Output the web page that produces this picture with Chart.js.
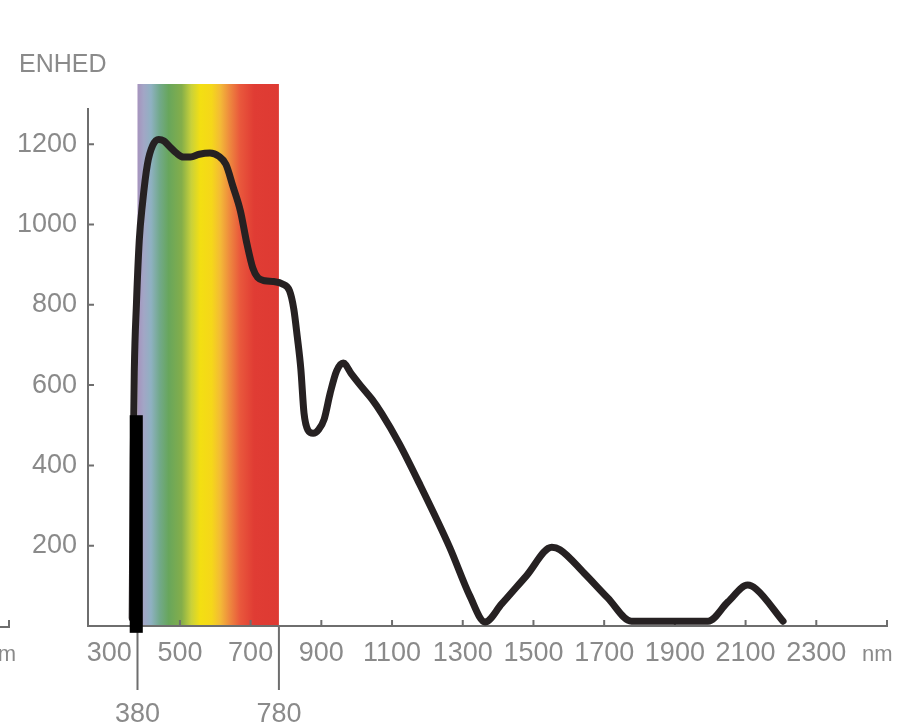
<!DOCTYPE html>
<html>
<head>
<meta charset="utf-8">
<script src="https://cdn.jsdelivr.net/npm/chart.js@4.4.1/dist/chart.umd.min.js"></script>
<style>
  html, body { margin: 0; padding: 0; background: #fff; }
  canvas { display: block; }
</style>
</head>
<body>
<canvas id="spectrumChart" width="910" height="726"></canvas>
<script>
// 태양 복사 스펙트럼 차트 (ENHED / nm)

// ==============================
//  데이터
// ==============================
const wavelengths = [365, 368, 371, 377, 385, 394, 408, 423, 440, 455, 470, 490, 510, 530, 555, 585, 610, 630, 650,
  671, 690, 706, 720, 740, 765, 790, 810, 822, 832, 842, 851, 862, 877, 893, 908, 925, 943, 962, 985,
  1010, 1043, 1071, 1120, 1180, 1263, 1320, 1363, 1410, 1480, 1552, 1575, 1643, 1710, 1777, 1850, 1920, 1994, 2050, 2106,
  2130, 2206];
const energy = [20, 420, 636, 802, 960, 1051, 1150, 1197, 1212, 1208, 1195, 1178, 1168, 1168, 1175, 1178, 1170, 1150, 1095,
  1034, 950, 892, 868, 860, 858, 852, 835, 790, 720, 640, 530, 488, 480, 490, 515, 580, 635, 655, 628,
  600, 565, 529, 455, 350, 196, 75, 10, 55, 125, 196, 190, 132, 70, 12, 12, 12, 12, 60, 102,
  92, 12];

const xTickValues = [300, 500, 700, 900, 1100, 1300, 1500, 1700, 1900, 2100, 2300];
const yTickValues = [200, 400, 600, 800, 1000, 1200];
const visibleRange = [380, 780];

// 가시광선 띠 색상 (nm, color)
const spectrumStops = [
  [380, "#a693bd"], [398, "#a2a6c6"], [418, "#8fb1c2"], [442, "#72a98c"], [468, "#68a65c"],
  [505, "#84ae4a"], [532, "#c9d13a"], [558, "#f3df12"], [590, "#f5d71a"], [615, "#f3b937"],
  [640, "#ee8a3e"], [670, "#e9583c"], [710, "#e03c34"], [780, "#de3a33"]
];

// 검은 가림 막대 (nm 시작, nm 끝, 위 값, 아래 값)
const maskBar = [358, 395, 525, -17];

const FONT = "'Liberation Sans', Arial, sans-serif";
const TEXT = "#8a8a8a";
const AXIS = "#6e6e6e";
const Y_AXIS_TOP = 1290;


// ==============================
//  축 / 배경 그리기 플러그인
// ==============================
const decorPlugin = {
  id: "decor",
  beforeDatasetsDraw(chart) {
    const { ctx, chartArea, scales: { x, y } } = chart;
    const x0 = x.getPixelForValue(visibleRange[0]);
    const x1 = x.getPixelForValue(visibleRange[1]);
    const yZero = y.getPixelForValue(0);
    const span = visibleRange[1] - visibleRange[0];

    // --- 스펙트럼 띠 ---
    const g = ctx.createLinearGradient(x0, 0, x1, 0);
    spectrumStops.forEach(([nm, c]) => g.addColorStop((nm - visibleRange[0]) / span, c));
    ctx.save();
    ctx.fillStyle = g;
    ctx.fillRect(x0, chartArea.top, x1 - x0, yZero - chartArea.top);

    // --- 축 ---
    ctx.strokeStyle = AXIS;
    ctx.lineWidth = 2;
    ctx.beginPath();
    ctx.moveTo(chartArea.left, y.getPixelForValue(Y_AXIS_TOP));
    ctx.lineTo(chartArea.left, yZero);
    ctx.lineTo(chartArea.right, yZero);
    ctx.lineTo(chartArea.right, yZero - 6);
    yTickValues.forEach(v => {
      const py = y.getPixelForValue(v);
      ctx.moveTo(chartArea.left, py);
      ctx.lineTo(chartArea.left + 6, py);
    });
    xTickValues.slice(1).forEach(v => {
      const px = x.getPixelForValue(v);
      ctx.moveTo(px, yZero);
      ctx.lineTo(px, yZero - 6);
    });
    // 380 / 780 표시선
    visibleRange.forEach(v => {
      const px = x.getPixelForValue(v);
      ctx.moveTo(px, yZero);
      ctx.lineTo(px, yZero + 64);
    });
    // 왼쪽 잘린 축 조각
    ctx.moveTo(0, yZero + 1);
    ctx.lineTo(9, yZero + 1);
    ctx.lineTo(9, yZero - 6);
    ctx.stroke();
    ctx.restore();
  },
  afterDatasetsDraw(chart) {
    const { ctx, scales: { x, y } } = chart;

    // --- 검은 막대 ---
    const bx0 = x.getPixelForValue(maskBar[0]);
    const bx1 = x.getPixelForValue(maskBar[1]);
    const by0 = y.getPixelForValue(maskBar[2]);
    const by1 = y.getPixelForValue(maskBar[3]);
    ctx.save();
    ctx.fillStyle = "#000";
    ctx.fillRect(bx0, by0, bx1 - bx0, by1 - by0);

    // --- 텍스트 ---
    ctx.fillStyle = TEXT;
    ctx.textBaseline = "alphabetic";
    ctx.font = "25px " + FONT;
    ctx.textAlign = "left";
    ctx.fillText("ENHED", 19, 72);

    ctx.font = "27px " + FONT;
    ctx.textAlign = "center";
    visibleRange.forEach(v => ctx.fillText(String(v), x.getPixelForValue(v), 722));

    ctx.font = "22px " + FONT;
    ctx.textAlign = "left";
    ctx.fillText("nm", 862, 661);
    ctx.textAlign = "right";
    ctx.fillText("nm", 16, 661);
    ctx.restore();
  }
};


// ==============================
//  차트 생성
// ==============================
const ctx1 = document.getElementById("spectrumChart");
new Chart(ctx1, {
  type: "line",
  data: {
    datasets: [
      {
        label: "ENHED",
        data: wavelengths.map((w, i) => ({ x: w, y: energy[i] })),
        borderColor: "#262122",
        borderWidth: 7,
        borderJoinStyle: "round",
        borderCapStyle: "round",
        pointRadius: 0,
        fill: false,
        clip: false,
        cubicInterpolationMode: "monotone"
      }
    ]
  },
  options: {
    responsive: false,
    animation: false,
    layout: { padding: { top: 84, right: 23, left: 0, bottom: 0 } },
    scales: {
      x: {
        type: "linear",
        min: 240,
        max: 2500,
        grid: { display: false, drawTicks: false },
        border: { display: false },
        afterBuildTicks: s => { s.ticks = xTickValues.map(v => ({ value: v })); },
        afterFit: s => { s.height = 100; },
        ticks: {
          color: TEXT,
          font: { family: FONT, size: 27 },
          padding: 11,
          maxRotation: 0,
          autoSkip: false,
          callback: v => String(v)
        }
      },
      y: {
        min: 0,
        max: 1350,
        grid: { display: false, drawTicks: false },
        border: { display: false },
        afterBuildTicks: s => { s.ticks = yTickValues.map(v => ({ value: v })); },
        afterFit: s => { s.width = 88; },
        ticks: {
          color: TEXT,
          font: { family: FONT, size: 27 },
          padding: 11,
          callback: v => String(v)
        }
      }
    },
    plugins: {
      legend: { display: false },
      tooltip: { enabled: false }
    }
  },
  plugins: [decorPlugin]
});
</script>
</body>
</html>
